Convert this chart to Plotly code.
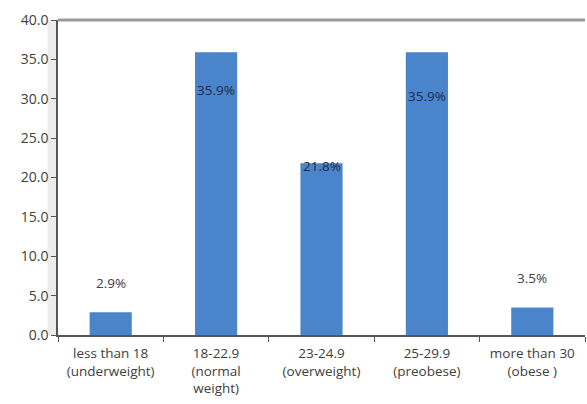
import plotly.graph_objects as go

categories = ["less than 18<br>(underweight)", "18-22.9<br>(normal<br>weight)",
              "23-24.9<br>(overweight)", "25-29.9<br>(preobese)", "more than 30<br>(obese )"]
values = [2.9, 35.9, 21.8, 35.9, 3.5]
labels = ["2.9%", "35.9%", "21.8%", "35.9%", "3.5%"]
label_shift = [29, -38, -3, -44, 29]  # pixel offsets (style)
label_color = ["#404040", "#1f2a44", "#1f2a44", "#1f2a44", "#404040"]

FONT = "Open Sans, sans-serif"

fig = go.Figure()
fig.add_trace(go.Bar(x=categories, y=values, marker_color="#4A85CC",
                     marker_line_width=0, width=0.4, hoverinfo="skip"))

for c, v, t, s, col in zip(categories, values, labels, label_shift, label_color):
    fig.add_annotation(x=c, y=v, text=t, showarrow=False, yshift=s,
                       font=dict(family=FONT, size=13.5, color=col))

fig.update_layout(
    width=587, height=404,
    margin=dict(l=58, r=2, t=20, b=69),
    paper_bgcolor="white", plot_bgcolor="white",
    showlegend=False,
    font=dict(family=FONT, size=13.5, color="#404040"),
    bargap=0.6,
)
fig.update_yaxes(range=[0, 40], tick0=0, dtick=5, tickformat=".1f",
                 showgrid=False, zeroline=False, showline=True,
                 linecolor="#555555", linewidth=1.5, ticks="outside",
                 ticklen=5, tickcolor="#555555", tickfont=dict(size=14, color="#404040"))
fig.update_xaxes(showgrid=False, showline=True, linecolor="#555555", linewidth=1.5,
                 ticks="outside", tickson="boundaries", ticklen=5, tickcolor="#555555",
                 tickfont=dict(size=13.5, color="#404040"), tickangle=0,
                 ticklabelstandoff=5)

# shadow-like border at top of plot area
fig.add_shape(type="line", xref="paper", yref="paper", x0=0, x1=1, y0=1, y1=1,
              line=dict(color="#9a9a9a", width=3))
fig.add_shape(type="rect", xref="paper", yref="paper", x0=-0.02, x1=0, y0=0, y1=1,
              line_width=0, fillcolor="rgba(180,180,180,0.25)", layer="below")

fig.write_html("out.html")
